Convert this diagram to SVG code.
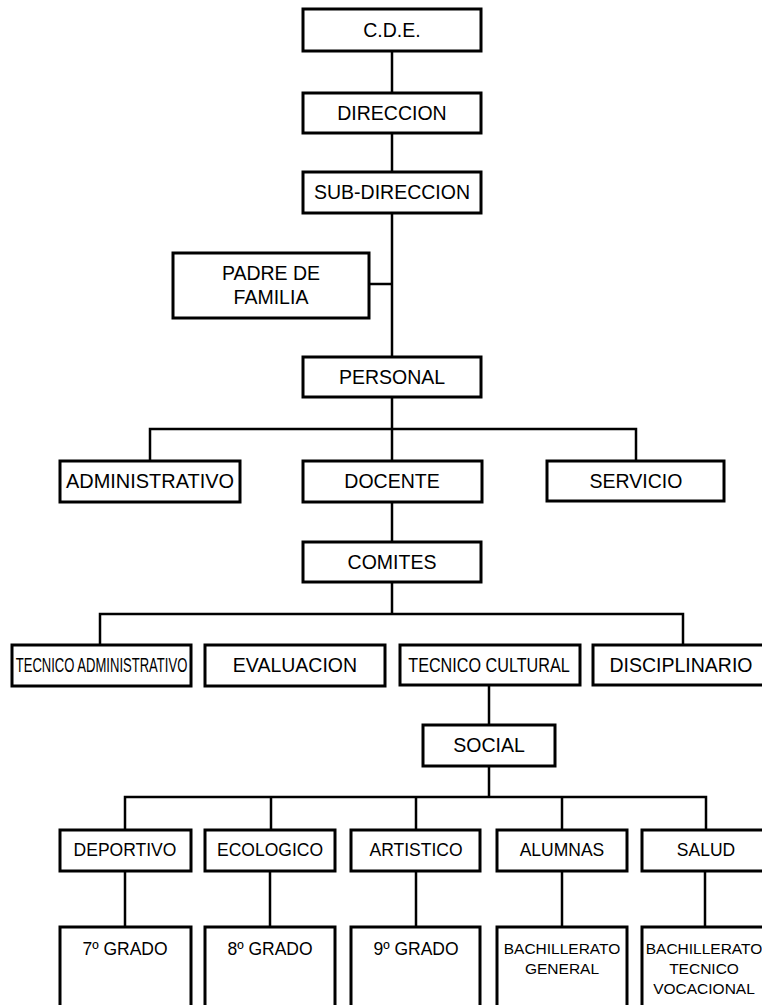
<svg xmlns="http://www.w3.org/2000/svg" width="762" height="1005" viewBox="0 0 762 1005">
  <style>
    .box { fill: #fff; stroke: #000; stroke-width: 3; }
    .wire { fill: none; stroke: #000; stroke-width: 2.5; }
    text { font-family: "Liberation Sans", Arial, sans-serif; fill: #000; text-anchor: middle; }
    .t19 { font-size: 19.5px; }
    .t17 { font-size: 17.5px; }
    .t15 { font-size: 15.5px; }
  </style>
  <rect width="762" height="1005" fill="#fff"/>

  <!-- connectors -->
  <g id="connectors">
    <path class="wire" d="M392 51 V93 M392 133 V172 M392 213 V357 M369 284 H392"/>
    <path class="wire" d="M392 397 V461 M150 461 V429 H636 V461"/>
    <path class="wire" d="M392 502 V542"/>
    <path class="wire" d="M392 582 V614 M100 645 V614 H683 V645"/>
    <path class="wire" d="M489 685 V725"/>
    <path class="wire" d="M489 766 V797 M125 830 V797 H706 V830 M271 797 V830 M416 797 V830 M562 797 V830"/>
    <path class="wire" d="M125 871 V927 M270 871 V927 M416 871 V927 M562 871 V927 M705 871 V927"/>
  </g>

  <g id="cde"><rect class="box" x="303" y="9" width="178" height="42"/><text class="t19" x="392" y="37">C.D.E.</text></g>
  <g id="direccion"><rect class="box" x="303" y="93" width="178" height="40"/><text class="t19" x="392" y="120">DIRECCION</text></g>
  <g id="subdireccion"><rect class="box" x="303" y="172" width="178" height="41"/><text class="t19" x="392" y="199">SUB-DIRECCION</text></g>
  <g id="padre"><rect class="box" x="173" y="253" width="196" height="65"/><text class="t19" x="271" y="280">PADRE DE</text><text class="t19" x="271" y="304">FAMILIA</text></g>
  <g id="personal"><rect class="box" x="303" y="357" width="178" height="40"/><text class="t19" x="392" y="384">PERSONAL</text></g>

  <g id="administrativo"><rect class="box" x="60" y="461" width="180" height="41"/><text class="t19" x="150" y="488" textLength="168" lengthAdjust="spacingAndGlyphs">ADMINISTRATIVO</text></g>
  <g id="docente"><rect class="box" x="303" y="461" width="179" height="41"/><text class="t19" x="392" y="488">DOCENTE</text></g>
  <g id="servicio"><rect class="box" x="547" y="461" width="177" height="40"/><text class="t19" x="636" y="488">SERVICIO</text></g>

  <g id="comites"><rect class="box" x="303" y="542" width="178" height="40"/><text class="t19" x="392" y="569">COMITES</text></g>

  <!-- narrow lettering in these two boxes is a horizontal squeeze of the regular face -->
  <g id="tecnico-administrativo"><rect class="box" x="12" y="645" width="179" height="41"/><text class="t19" transform="translate(101.5 672) scale(0.67 1)" x="0" y="0">TECNICO ADMINISTRATIVO</text></g>
  <g id="evaluacion"><rect class="box" x="205" y="645" width="180" height="41"/><text class="t19" x="295" y="672">EVALUACION</text></g>
  <g id="tecnico-cultural"><rect class="box" x="400" y="645" width="180" height="40"/><text class="t19" transform="translate(489 672) scale(0.83 1)" x="0" y="0">TECNICO CULTURAL</text></g>
  <g id="disciplinario"><rect class="box" x="593" y="645" width="180" height="40"/><text class="t19" x="681" y="672">DISCIPLINARIO</text></g>

  <g id="social"><rect class="box" x="423" y="725" width="132" height="41"/><text class="t19" x="489" y="752">SOCIAL</text></g>

  <g id="deportivo"><rect class="box" x="60" y="830" width="131" height="41"/><text class="t17" x="125" y="856">DEPORTIVO</text></g>
  <g id="ecologico"><rect class="box" x="205" y="830" width="130" height="41"/><text class="t17" x="270" y="856">ECOLOGICO</text></g>
  <g id="artistico"><rect class="box" x="351" y="830" width="129" height="41"/><text class="t17" x="416" y="856">ARTISTICO</text></g>
  <g id="alumnas"><rect class="box" x="497" y="830" width="130" height="41"/><text class="t17" x="562" y="856">ALUMNAS</text></g>
  <g id="salud"><rect class="box" x="642" y="830" width="130" height="41"/><text class="t17" x="706" y="856">SALUD</text></g>

  <g id="grado7"><rect class="box" x="60" y="927" width="131" height="95"/><text class="t17" x="125" y="955">7º GRADO</text></g>
  <g id="grado8"><rect class="box" x="205" y="927" width="130" height="95"/><text class="t17" x="270" y="955">8º GRADO</text></g>
  <g id="grado9"><rect class="box" x="351" y="927" width="129" height="95"/><text class="t17" x="416" y="955">9º GRADO</text></g>
  <g id="bach-general"><rect class="box" x="497" y="927" width="130" height="95"/><text class="t15" x="562" y="954">BACHILLERATO</text><text class="t15" x="562" y="974">GENERAL</text></g>
  <g id="bach-tecnico"><rect class="box" x="642" y="927" width="130" height="95"/><text class="t15" x="704" y="954">BACHILLERATO</text><text class="t15" x="704" y="974">TECNICO</text><text class="t15" x="704" y="994">VOCACIONAL</text></g>
</svg>
